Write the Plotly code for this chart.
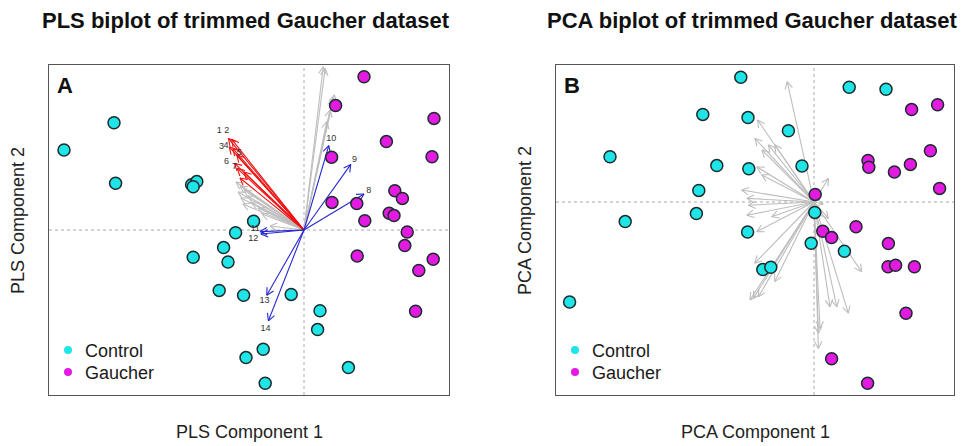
import math
import plotly.graph_objects as go

# ---------------- Panel A: PLS scores ----------------
pls_ctrl_x = [-4.75, -6.00, -4.71, -2.81, -2.68, -2.77, -1.26, -1.71, -2.01, -2.77,
              -1.90, -2.12, -1.51, -0.32, 0.40, 0.34, -1.02, -1.45, -0.97, 1.11]
pls_ctrl_y = [2.68, 2.00, 1.17, 1.13, 1.21, 1.08, 0.22, -0.07, -0.44, -0.68,
              -0.80, -1.51, -1.63, -1.61, -2.02, -2.49, -2.98, -3.19, -3.83, -3.44]
pls_gau_x = [1.50, 0.79, 3.25, 2.06, 3.20, 0.69, 0.70, 1.32, 1.52, 2.27,
             2.46, 2.13, 2.25, 2.58, 2.52, 1.33, 3.23, 2.87, 2.79]
pls_gau_y = [3.83, 3.11, 2.79, 2.21, 1.83, 1.82, 0.69, 0.66, 0.23, 0.98,
             0.79, 0.42, 0.36, -0.05, -0.39, -0.65, -0.73, -1.01, -2.03]

# PLS loadings: red (labelled 1-7), blue (labelled 8-14), grey (unlabelled)
pls_red_x = [-1.89, -1.81, -1.87, -1.78, -1.68, -1.74, -1.67, -1.50, -1.60]
pls_red_y = [2.29, 2.27, 2.08, 2.04, 1.88, 1.67, 1.54, 1.45, 1.30]
pls_red_labels = ["1", "2", "3", "4", "5", "6", "7"]
pls_red_lab_x = [-2.12, -1.93, -2.06, -1.95, -1.62, -1.94, -1.74]
pls_red_lab_y = [2.48, 2.48, 2.08, 2.10, 1.92, 1.71, 1.58]

pls_blue_x = [1.50, 1.17, 0.62, -1.10, -1.08, -0.93, -0.89]
pls_blue_y = [0.90, 1.64, 2.11, -0.04, -0.10, -1.63, -2.27]
pls_blue_labels = ["8", "9", "10", "11", "12", "13", "14"]
pls_blue_lab_x = [1.62, 1.26, 0.68, -1.22, -1.27, -0.99, -0.96]
pls_blue_lab_y = [0.98, 1.75, 2.28, 0.02, -0.21, -1.77, -2.47]

pls_grey_x = [-1.70, -1.60, -1.65, -1.50, -1.58, -1.40, -1.53, -1.30, -1.15, -1.05, -0.85,
              0.48, 0.53, 0.76, 0.72, 0.65, 0.57]
pls_grey_y = [1.20, 1.10, 0.95, 1.00, 0.80, 0.85, 0.65, 0.68, 0.55, 0.40, 0.10,
              4.08, 4.04, 3.38, 3.29, 3.00, 2.71]

# ---------------- Panel B: PCA scores ----------------
pca_ctrl_x = [-1.83, 0.88, 1.80, -2.78, -1.65, -0.64, -5.10, -2.43, -1.63, -0.30,
              -2.88, -2.94, -4.72, 0.02, -1.66, -0.07, 0.76, -1.28, -1.08, -6.11]
pca_ctrl_y = [3.12, 2.87, 2.82, 2.19, 2.11, 1.78, 1.13, 0.91, 0.83, 0.90,
              0.29, -0.29, -0.49, -0.26, -0.75, -1.03, -1.23, -1.69, -1.63, -2.50]
pca_gau_x = [2.44, 3.09, 2.91, 1.35, 1.37, 2.41, 2.01, 3.14, 0.03, 1.05,
             0.22, 0.44, 1.86, 1.85, 2.04, 2.51, 2.30, 0.44, 1.34]
pca_gau_y = [2.31, 2.43, 1.28, 1.04, 0.87, 0.94, 0.75, 0.34, 0.19, -0.62,
             -0.73, -0.89, -1.04, -1.62, -1.58, -1.62, -2.78, -3.92, -4.53]

pca_grey_x = [-0.67, -1.41, -1.48, -1.14, -1.30, -0.98, -1.43, -1.31, -1.81, -1.68, -1.64,
              -1.68, -1.43, -1.06, -1.48, -1.60, -1.52, -1.39, -0.98, 0.36, 0.23,
              0.36, 1.19, 0.40, 0.86, 0.57, 0.15, 0.11, 0.11]
pca_grey_y = [3.01, 2.05, 1.59, 1.43, 1.30, 1.43, 0.88, 0.68, 0.30, 0.09, -0.08,
              -0.33, -0.74, -0.37, -1.53, -2.45, -2.41, -2.37, -1.99, 0.59, -0.05,
              -0.41, -1.74, -2.62, -2.78, -2.62, -3.16, -3.66, -3.28]

# ---------------- text ----------------
titles = ["PLS biplot of trimmed Gaucher dataset", "PCA biplot of trimmed Gaucher dataset"]
xtitles = ["PLS Component 1", "PCA Component 1"]
ytitles = ["PLS Component 2", "PCA Component 2"]
panel_tags = ["A", "B"]
groups = ["Control", "Gaucher"]

# ---------------- layout geometry ----------------
W, H = 972, 446
FONT = "Liberation Sans, Arial, Helvetica, sans-serif"
CYAN = "#1FE5E8"
MAGENTA = "#E21AE2"
EDGE = "#1d2b2b"
RED = "#F01010"
BLUE = "#2828D0"
GREY = "#BDBDBD"

pA_px = (49, 449)
pB_px = (556, 954)
py_px = (65, 395)
rangeA_x = [-6.375, 3.625]
rangeA_y = [-4.125, 4.125]
rangeB_x = [-6.45, 3.5]
rangeB_y = [-4.825, 3.425]


def dom_x(p):
    return [p[0] / W, p[1] / W]


dom_y = [1 - py_px[1] / H, 1 - py_px[0] / H]


def arrow_trace(xs, ys, color, xa, ya, xpx, ypx, rx, ry, head=8.0, ang=28.0):
    sx = (xpx[1] - xpx[0]) / (rx[1] - rx[0])
    sy = (ypx[1] - ypx[0]) / (ry[1] - ry[0])
    lx, ly = [], []
    for x, y in zip(xs, ys):
        lx += [0, x, None]
        ly += [0, y, None]
        px, pyy = x * sx, y * sy
        th = math.atan2(pyy, px)
        for s in (1, -1):
            a = th + math.pi + s * math.radians(ang)
            hx = x + head * math.cos(a) / sx
            hy = y + head * math.sin(a) / sy
            lx += [x, hx, None]
            ly += [y, hy, None]
    return go.Scatter(x=lx, y=ly, mode="lines", xaxis=xa, yaxis=ya,
                      line=dict(color=color, width=1.1), hoverinfo="skip",
                      showlegend=False)


def points(xs, ys, color, name, xa, ya):
    return go.Scatter(x=xs, y=ys, mode="markers", name=name, xaxis=xa, yaxis=ya,
                      marker=dict(size=12, color=color, line=dict(color=EDGE, width=1.5)),
                      showlegend=False)


fig = go.Figure()
# Panel A
fig.add_trace(arrow_trace(pls_grey_x, pls_grey_y, GREY, "x", "y", pA_px, py_px, rangeA_x, rangeA_y))
fig.add_trace(arrow_trace(pls_red_x, pls_red_y, RED, "x", "y", pA_px, py_px, rangeA_x, rangeA_y))
fig.add_trace(arrow_trace(pls_blue_x, pls_blue_y, BLUE, "x", "y", pA_px, py_px, rangeA_x, rangeA_y))
fig.add_trace(points(pls_ctrl_x, pls_ctrl_y, CYAN, groups[0], "x", "y"))
fig.add_trace(points(pls_gau_x, pls_gau_y, MAGENTA, groups[1], "x", "y"))
fig.add_trace(go.Scatter(x=pls_red_lab_x + pls_blue_lab_x, y=pls_red_lab_y + pls_blue_lab_y,
                         text=pls_red_labels + pls_blue_labels, mode="text", xaxis="x", yaxis="y",
                         textfont=dict(size=9, color="#333333", family=FONT), showlegend=False,
                         hoverinfo="skip"))
# Panel B
fig.add_trace(arrow_trace(pca_grey_x, pca_grey_y, GREY, "x2", "y2", pB_px, py_px, rangeB_x, rangeB_y))
fig.add_trace(points(pca_ctrl_x, pca_ctrl_y, CYAN, groups[0], "x2", "y2"))
fig.add_trace(points(pca_gau_x, pca_gau_y, MAGENTA, groups[1], "x2", "y2"))

axis_common = dict(showgrid=False, zeroline=False, showticklabels=False, ticks="",
                   showline=True, mirror=True, linecolor="#555555", linewidth=1.3)

fig.update_layout(
    width=W, height=H, autosize=False,
    margin=dict(l=0, r=0, t=0, b=0),
    paper_bgcolor="white", plot_bgcolor="white",
    font=dict(family=FONT, color="#1a1a1a"),
    xaxis=dict(domain=dom_x(pA_px), range=rangeA_x, anchor="y", **axis_common),
    yaxis=dict(domain=dom_y, range=rangeA_y, anchor="x", **axis_common),
    xaxis2=dict(domain=dom_x(pB_px), range=rangeB_x, anchor="y2", **axis_common),
    yaxis2=dict(domain=dom_y, range=rangeB_y, anchor="x2", **axis_common),
    showlegend=False,
)

shapes = []
for xr, yr in (("x", "y"), ("x2", "y2")):
    shapes.append(dict(type="line", xref=xr, yref=yr + " domain", x0=0, x1=0, y0=0, y1=1,
                       line=dict(color="#AAAAAA", width=1, dash="dot"), layer="below"))
    shapes.append(dict(type="line", xref=xr + " domain", yref=yr, x0=0, x1=1, y0=0, y1=0,
                       line=dict(color="#AAAAAA", width=1, dash="dot"), layer="below"))

annotations = []
panels = [(pA_px, 0), (pB_px, 1)]
for p, i in panels:
    cx = (p[0] + p[1]) / 2 / W
    annotations.append(dict(text="<b>" + titles[i] + "</b>", x=cx - 3 / W, y=1 - 20 / H,
                            xref="paper", yref="paper", showarrow=False,
                            font=dict(size=22, family=FONT, color="#111111"),
                            xanchor="center", yanchor="middle"))
    annotations.append(dict(text=xtitles[i], x=cx, y=1 - 432 / H, xref="paper", yref="paper",
                            showarrow=False, font=dict(size=18, family=FONT, color="#222222"),
                            xanchor="center", yanchor="middle"))
    annotations.append(dict(text=ytitles[i], x=(p[0] - 31) / W, y=1 - 221 / H, xref="paper",
                            yref="paper", showarrow=False, textangle=-90,
                            font=dict(size=18, family=FONT, color="#222222"),
                            xanchor="center", yanchor="middle"))
    annotations.append(dict(text="<b>" + panel_tags[i] + "</b>", x=(p[0] + 16) / W, y=1 - 85 / H,
                            xref="paper", yref="paper", showarrow=False,
                            font=dict(size=22, family=FONT, color="#111111"),
                            xanchor="center", yanchor="middle"))
    for k, (g, col) in enumerate(zip(groups, (CYAN, MAGENTA))):
        yy = 351 + 22 * k
        annotations.append(dict(text=g, x=(p[0] + 34) / W, y=1 - yy / H, xref="paper",
                                yref="paper", showarrow=False,
                                font=dict(size=18, family=FONT, color="#1a1a1a"),
                                xanchor="left", yanchor="middle"))
        shapes.append(dict(type="circle", xref="paper", yref="paper", xsizemode="pixel",
                           ysizemode="pixel", xanchor=(p[0] + 19) / W, yanchor=1 - (yy - 1) / H,
                           x0=-4, x1=4, y0=-4, y1=4, fillcolor=col, line=dict(width=0)))

fig.update_layout(shapes=shapes, annotations=annotations)
fig.write_html("out.html")
